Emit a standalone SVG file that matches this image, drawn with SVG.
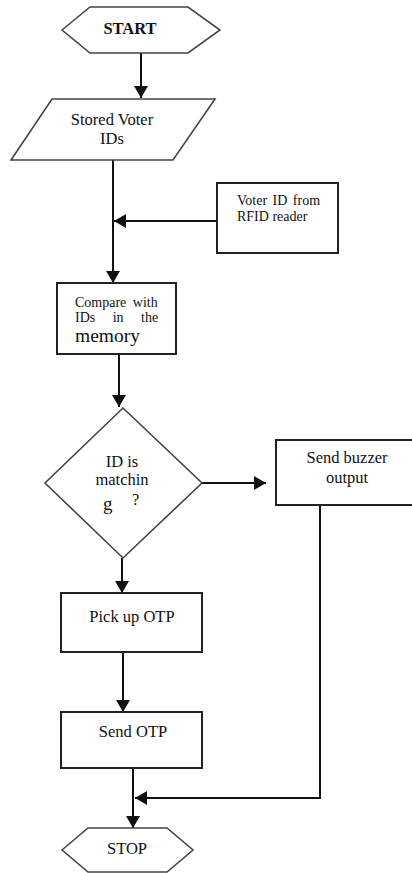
<svg xmlns="http://www.w3.org/2000/svg" width="412" height="873" viewBox="0 0 412 873">
<style>
.shape{fill:#fff;stroke:#222;stroke-width:2}
.thin{fill:#fff;stroke:#444;stroke-width:1.6}
.conn{fill:none;stroke:#111;stroke-width:2}
text{font-family:"Liberation Serif","Times New Roman",serif;fill:#111}
.t{font-size:16.5px;text-anchor:middle}
.s{font-size:14px}
</style>
<defs>
<marker id="ah" markerUnits="userSpaceOnUse" markerWidth="12" markerHeight="14" viewBox="0 0 12 14" refX="12" refY="7" orient="auto">
<path d="M0,0 L12,7 L0,14 Z" fill="#111"/>
</marker>
</defs>
<rect width="412" height="873" fill="#fff"/>
<g id="connectors">
<line class="conn" x1="141" y1="53" x2="141" y2="98" marker-end="url(#ah)"/>
<line class="conn" x1="217" y1="221" x2="114" y2="221" marker-end="url(#ah)"/>
<line class="conn" x1="113" y1="160" x2="113" y2="283" marker-end="url(#ah)"/>
<line class="conn" x1="119" y1="355" x2="119" y2="407" marker-end="url(#ah)"/>
<line class="conn" x1="202" y1="483" x2="266" y2="483" marker-end="url(#ah)"/>
<line class="conn" x1="122" y1="558" x2="122" y2="593" marker-end="url(#ah)"/>
<line class="conn" x1="123" y1="652" x2="123" y2="712" marker-end="url(#ah)"/>
<line class="conn" x1="133" y1="768" x2="133" y2="828" marker-end="url(#ah)"/>
<polyline class="conn" points="320,505 320,798 135,798" marker-end="url(#ah)"/>
</g>
<g id="start">
<polygon class="thin" points="62,30 90,7 188,7 220,30 188,53 90,53"/>
<text class="t" x="130" y="34" font-weight="bold" font-size="15.5">START</text>
</g>
<g id="stored">
<polygon class="thin" points="52,99 215,99 173,160 11,160"/>
<text class="t" x="112" y="125">Stored Voter</text>
<text class="t" x="112" y="144">IDs</text>
</g>
<g id="rfid">
<rect class="shape" x="217" y="183" width="121" height="70"/>
<text class="s" x="237" y="205" word-spacing="2">Voter ID from</text>
<text class="s" x="237" y="221">RFID reader</text>
</g>
<g id="compare">
<rect class="shape" x="57" y="283" width="119" height="71"/>
<text class="s" x="75" y="307" word-spacing="3">Compare with</text>
<text class="s" x="75" y="322" word-spacing="14">IDs in the</text>
<text x="75" y="342" font-size="19.5">memory</text>
</g>
<g id="decision">
<polygon class="thin" points="123,408 202,483 123,558 45,483"/>
<text class="t" x="122" y="467">ID is</text>
<text class="t" x="122" y="485">matchin</text>
<text x="103" y="510" font-size="19">g</text>
<text x="132" y="505" font-size="16.5">?</text>
</g>
<g id="buzzer">
<rect class="shape" x="276" y="440" width="145" height="65"/>
<text class="t" x="347" y="463">Send buzzer</text>
<text class="t" x="347" y="483">output</text>
</g>
<g id="pickup">
<rect class="shape" x="61" y="593" width="141" height="59"/>
<text class="t" x="132" y="622">Pick up OTP</text>
</g>
<g id="sendotp">
<rect class="shape" x="61" y="712" width="141" height="56"/>
<text class="t" x="133" y="737">Send OTP</text>
</g>
<g id="stop">
<polygon class="thin" points="62,850 88,828 167,828 193,850 167,872 88,872"/>
<text class="t" x="127" y="854">STOP</text>
</g>
</svg>
